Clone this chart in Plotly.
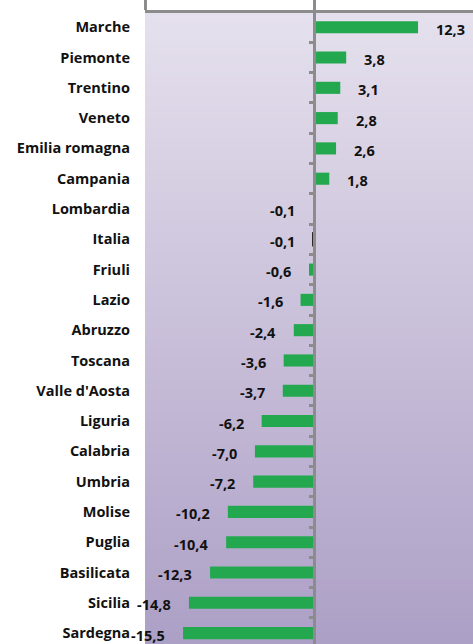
import plotly.graph_objects as go

regions = ["Marche", "Piemonte", "Trentino", "Veneto", "Emilia romagna", "Campania",
           "Lombardia", "Italia", "Friuli", "Lazio", "Abruzzo", "Toscana",
           "Valle d'Aosta", "Liguria", "Calabria", "Umbria", "Molise", "Puglia",
           "Basilicata", "Sicilia", "Sardegna"]
values = [12.3, 3.8, 3.1, 2.8, 2.6, 1.8, -0.1, -0.1, -0.6, -1.6, -2.4, -3.6,
          -3.7, -6.2, -7.0, -7.2, -10.2, -10.4, -12.3, -14.8, -15.5]

GREEN = "#23a850"
bar_colors = ["#111111" if r == "Italia" else GREEN for r in regions]
bar_line_w = [2.2 if r == "Italia" else 0 for r in regions]

XMIN, XMAX = -20, 18.8
n = len(regions)
yrange = [n - 0.64, -0.47]

fig = go.Figure()
fig.add_trace(go.Bar(
    x=values, y=regions, orientation="h", width=0.4,
    marker=dict(color=bar_colors, line=dict(width=bar_line_w, color="#111111")),
    showlegend=False, hoverinfo="skip",
))
fig.add_trace(go.Scatter(
    x=[0] * n, y=regions, yaxis="y2", mode="markers",
    marker=dict(opacity=0), showlegend=False, hoverinfo="skip",
))

font_fam = "'Open Sans', Lato, sans-serif"
annotations = []
for r, v in zip(regions, values):
    txt = f"{v:.1f}".replace(".", ",")
    annotations.append(dict(
        x=v, y=r, text=f"<b>{txt}</b>", showarrow=False,
        xanchor="left" if v >= 0 else "right",
        xshift=16 if v >= 0 else -16, yshift=-2,
        font=dict(family=font_fam, size=14.5, color="#111111"),
    ))

# vertical gradient background in plot area
shapes = []
top = (229, 224, 237)
bot = (173, 160, 198)
N = 60
for i in range(N):
    t = i / (N - 1)
    c = tuple(round(top[k] + (bot[k] - top[k]) * t) for k in range(3))
    shapes.append(dict(
        type="rect", xref="paper", yref="paper",
        x0=0, x1=1, y0=1 - (i + 1) / N, y1=1 - i / N + 0.002,
        fillcolor=f"rgb{c}", line=dict(width=0), layer="below",
    ))

fig.update_layout(
    width=473, height=644,
    margin=dict(l=145, r=0, t=13, b=0),
    paper_bgcolor="white", plot_bgcolor="rgba(0,0,0,0)",
    bargap=0.6,
    shapes=shapes, annotations=annotations,
    xaxis=dict(
        range=[XMIN, XMAX], side="top", showline=True, linecolor="#8c8c8c",
        linewidth=3, ticks="outside", tickvals=[-20, 0, 20], ticklen=11,
        tickwidth=3, tickcolor="#8c8c8c", showticklabels=False,
        showgrid=False, zeroline=False,
    ),
    yaxis=dict(
        type="category", categoryorder="array", categoryarray=regions,
        range=yrange, showgrid=False, zeroline=False, showline=False,
        ticks="", ticklabelstandoff=14,
        tickfont=dict(family=font_fam, size=14.5, color="#111111", weight="bold"),
    ),
    yaxis2=dict(
        type="category", categoryorder="array", categoryarray=regions,
        range=yrange, overlaying="y", anchor="free",
        position=(0 - XMIN) / (XMAX - XMIN),
        showline=True, linecolor="#8c8c8c", linewidth=3,
        ticks="outside", tickson="boundaries", ticklen=4, tickwidth=3,
        tickcolor="#8c8c8c", showticklabels=False, showgrid=False,
        zeroline=False,
    ),
)

fig.write_html(
    "out.html",
    config={"displayModeBar": False},
    post_script="document.body.style.margin='0';document.body.style.overflow='hidden';",
)
